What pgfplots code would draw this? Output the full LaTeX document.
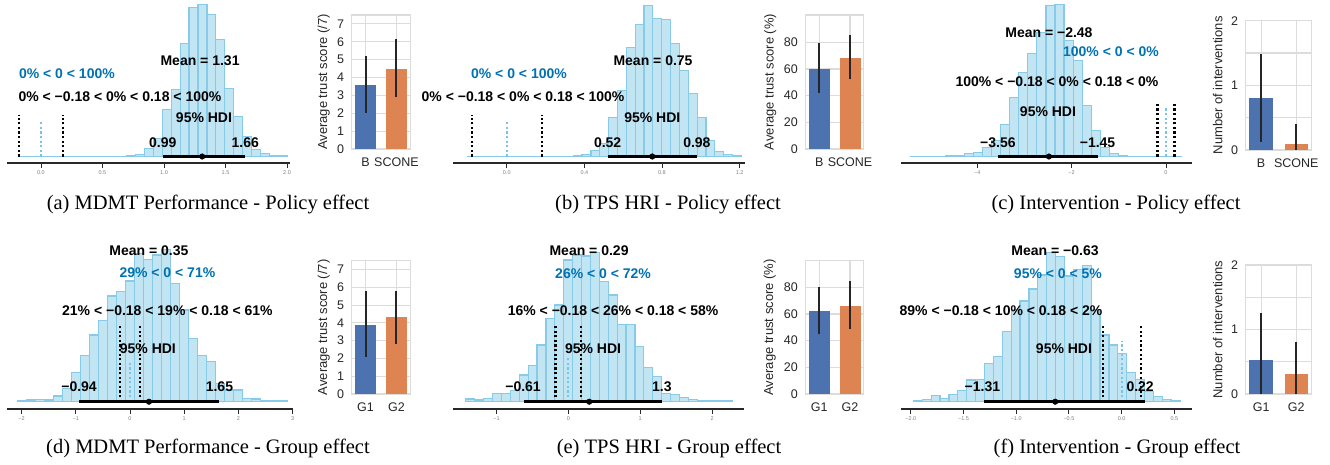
\documentclass[border=0pt]{standalone}
\usepackage{fontspec}
\setmainfont{Liberation Serif}
\newfontfamily\lsans{Liberation Sans}
\usepackage{pgfplots}
\pgfplotsset{compat=1.18}
\definecolor{histfill}{RGB}{194,229,244}
\definecolor{histline}{RGB}{135,203,232}
\definecolor{blueTxt}{RGB}{0,114,178}
\definecolor{zeroblue}{RGB}{120,195,230}
\definecolor{sbblue}{RGB}{76,114,176}
\definecolor{sborange}{RGB}{221,132,82}
\definecolor{gridgray}{RGB}{220,220,220}
\definecolor{labgray}{RGB}{38,38,38}
\definecolor{axdark}{RGB}{40,40,40}
\tikzset{ann/.style={font=\lsans\bfseries\fontsize{14}{16}\selectfont, inner sep=0pt, anchor=center},
  captxt/.style={font=\fontsize{20.5}{24}\selectfont, inner sep=0pt, anchor=center}}
\pgfplotsset{
  histax/.style={
    scale only axis, anchor=south west, clip=false,
    axis y line=none, axis x line*=bottom,
    axis line style={line width=1.3pt, draw=axdark},
    xtick align=outside, major tick length=4.5pt,
    tick style={line width=0.9pt, draw=axdark},
    xticklabel style={font=\lsans\fontsize{5.5}{6}\selectfont, text=gray},
    ytick=\empty,
  },
  hist/.style={ybar, bar shift=0pt, fill=histfill, draw=histline, line width=1.2pt},
  thr/.style={black, line width=2.2pt, dash pattern=on 2.2pt off 2.4pt},
  zer/.style={zeroblue, line width=2.2pt, dash pattern=on 2.2pt off 2.4pt},
  hdi/.style={black, line width=3.2pt},
  meandot/.style={only marks, mark=*, mark size=2.8pt, black},
  errb/.style={labgray, line width=2pt},
  barax/.style={
    scale only axis, anchor=south west, clip=false,
    ymin=0, xmin=-0.45, xmax=1.45,
    axis line style={gridgray, line width=1.1pt},
    grid=major, grid style={gridgray, line width=1.1pt},
    minor grid style={gridgray, line width=1.1pt},
    major tick length=0pt, minor tick length=0pt,
    xtick={0,1},
    tick label style={font=\lsans\fontsize{12.5}{14}\selectfont, text=labgray},
    yticklabel style={xshift=-4pt},
    xticklabel style={yshift=-5pt},
    every axis y label/.style={at={([xshift=#1]axis description cs:0,0.5)}, rotate=90, anchor=center, font=\lsans\fontsize{13}{15}\selectfont, text=labgray},
  },
}
\begin{document}
\begin{tikzpicture}
\path[use as bounding box] (0,0) rectangle (1330pt,-464pt);

% ---------- (a) histogram
\begin{axis}[histax, at={(7pt,-163pt)}, width=283pt, height=158.5pt,
  xmin=-0.276, xmax=2.024, ymin=-6.5, ymax=152,
  xtick={0,0.5,1,1.5,2}, xticklabels={0.0,0.5,1.0,1.5,2.0}]
\addplot[hist, bar width=0.07233] coordinates {
(-0.134,0) (-0.062,0) (0.011,0) (0.083,0) (0.156,0) (0.228,0) (0.300,0) (0.372,0)
(0.445,0.3) (0.517,0.3) (0.589,0.3) (0.662,0.3) (0.734,1) (0.806,1.7) (0.879,8.3)
(0.951,18) (1.023,46.7) (1.096,66.7) (1.168,113) (1.240,149) (1.313,151.7)
(1.385,141.7) (1.457,116.7) (1.530,68.3) (1.602,40) (1.674,20) (1.747,6.7)
(1.819,2.7) (1.891,1.3) (1.964,1)};
\addplot[thr] coordinates {(-0.18,0) (-0.18,41.5)};
\addplot[thr] coordinates {(0.18,0) (0.18,41.5)};
\addplot[zer] coordinates {(0,0) (0,36.5)};
\addplot[hdi] coordinates {(0.99,0) (1.66,0)};
\addplot[meandot] coordinates {(1.31,0)};
\node[ann] at (axis cs:1.293,96) {Mean = 1.31};
\node[ann, text=blueTxt] at (axis cs:0.211,83) {0\% < 0 < 100\%};
\node[ann] at (axis cs:0.642,60) {0\% < −0.18 < 0\% < 0.18 < 100\%};
\node[ann] at (axis cs:1.325,39) {95\% HDI};
\node[ann] at (axis cs:0.99,14) {0.99};
\node[ann] at (axis cs:1.66,14) {1.66};
\end{axis}

% ---------- (a) bars
\begin{axis}[barax=-28pt, at={(351.7pt,-149pt)}, width=58.6pt, height=134pt,
  ymax=7.5, ytick={0,1,2,3,4,5,6,7}, yticklabels={0,1,2,3,4,5,6,7},
  xticklabels={B,SCONE}, ylabel={Average trust score (/7)}]
\addplot[ybar, bar shift=0pt, bar width=21pt, fill=sbblue, draw=none] coordinates {(0,3.6)};
\addplot[ybar, bar shift=0pt, bar width=21pt, fill=sborange, draw=none] coordinates {(1,4.5)};
\addplot[errb] coordinates {(0,2.03) (0,5.2)};
\addplot[errb] coordinates {(1,2.9) (1,6.15)};
\end{axis}

% ---------- (b) histogram
\begin{axis}[histax, at={(453pt,-163pt)}, width=292pt, height=158.5pt,
  xmin=-0.277, xmax=1.228, ymin=-6.5, ymax=152,
  xtick={0,0.4,0.8,1.2}, xticklabels={0.0,0.4,0.8,1.2}]
\addplot[hist, bar width=0.04563] coordinates {
(-0.182,0) (-0.137,0) (-0.091,0) (-0.045,0) (0.000,0) (0.046,0) (0.092,0) (0.137,0)
(0.183,0) (0.229,0) (0.274,0.3) (0.320,0.3) (0.365,1) (0.411,2) (0.457,6) (0.502,12.7)
(0.548,39) (0.594,66) (0.639,109) (0.685,132) (0.730,151) (0.776,138) (0.822,137)
(0.867,113) (0.913,86) (0.959,63) (1.004,39) (1.050,16) (1.095,5.3) (1.141,2) (1.187,1)};
\addplot[thr] coordinates {(-0.18,0) (-0.18,41.5)};
\addplot[thr] coordinates {(0.18,0) (0.18,41.5)};
\addplot[zer] coordinates {(0,0) (0,36.5)};
\addplot[hdi] coordinates {(0.52,0) (0.98,0)};
\addplot[meandot] coordinates {(0.75,0)};
\node[ann] at (axis cs:0.754,95.5) {Mean = 0.75};
\node[ann, text=blueTxt] at (axis cs:0.063,82.5) {0\% < 0 < 100\%};
\node[ann] at (axis cs:0.084,59.5) {0\% < −0.18 < 0\% < 0.18 < 100\%};
\node[ann] at (axis cs:0.75,38.5) {95\% HDI};
\node[ann] at (axis cs:0.52,13.5) {0.52};
\node[ann] at (axis cs:0.98,13.5) {0.98};
\end{axis}

% ---------- (b) bars
\begin{axis}[barax=-35pt, at={(805.3pt,-149pt)}, width=58.6pt, height=134pt,
  ymax=100.5, ytick={0,20,40,60,80}, yticklabels={0,20,40,60,80},
  xticklabels={B,SCONE}, ylabel={Average trust score (\%)}]
\addplot[ybar, bar shift=0pt, bar width=21pt, fill=sbblue, draw=none] coordinates {(0,60)};
\addplot[ybar, bar shift=0pt, bar width=21pt, fill=sborange, draw=none] coordinates {(1,68.5)};
\addplot[errb] coordinates {(0,41.75) (0,79.25)};
\addplot[errb] coordinates {(1,52.25) (1,85.5)};
\end{axis}

% ---------- (c) histogram
\begin{axis}[histax, at={(900.7pt,-163pt)}, width=291pt, height=158.5pt,
  xmin=-5.62, xmax=0.545, ymin=-6.5, ymax=152,
  xtick={-4,-2,0}, xticklabels={−4,−2,0}]
\addplot[hist, bar width=0.1925] coordinates {
(-5.335,0) (-5.142,0) (-4.950,0) (-4.757,0.3) (-4.565,0.7) (-4.372,1) (-4.180,3.3)
(-3.987,4.3) (-3.795,9.3) (-3.602,16) (-3.410,32) (-3.217,59.3) (-3.025,84.3)
(-2.832,102.7) (-2.640,124.3) (-2.447,151) (-2.255,152) (-2.062,116) (-1.870,96)
(-1.677,51) (-1.485,26) (-1.292,9.3) (-1.100,2.7) (-0.907,0.7) (-0.715,0.3)
(-0.522,0) (-0.330,0) (-0.137,0) (0.055,0) (0.248,0)};
\addplot[thr] coordinates {(-0.18,0) (-0.18,54.5)};
\addplot[thr] coordinates {(0.18,0) (0.18,54.5)};
\addplot[zer] coordinates {(0,0) (0,49.5)};
\addplot[hdi] coordinates {(-3.56,0) (-1.45,0)};
\addplot[meandot] coordinates {(-2.48,0)};
\node[ann] at (axis cs:-2.48,123.5) {Mean = −2.48};
\node[ann, text=blueTxt] at (axis cs:-1.165,104.5) {100\% < 0 < 0\%};
\node[ann] at (axis cs:-2.31,74.5) {100\% < −0.18 < 0\% < 0.18 < 0\%};
\node[ann] at (axis cs:-2.5,44.5) {95\% HDI};
\node[ann] at (axis cs:-3.56,13.5) {−3.56};
\node[ann] at (axis cs:-1.45,13.5) {−1.45};
\end{axis}

% ---------- (c) bars
\begin{axis}[barax=-28pt, at={(1245.7pt,-150pt)}, width=66pt, height=129.3pt,
  xmin=-0.44, xmax=1.44,
  ymax=2, ytick={0,1,2}, yticklabels={0,1,2}, minor ytick={0.5,1.5}, grid=both,
  xticklabels={B,SCONE}, ylabel={Number of interventions}]
\addplot[ybar, bar shift=0pt, bar width=23.5pt, fill=sbblue, draw=none] coordinates {(0,0.80)};
\addplot[ybar, bar shift=0pt, bar width=23.5pt, fill=sborange, draw=none] coordinates {(1,0.093)};
\addplot[errb] coordinates {(0,0.13) (0,1.49)};
\addplot[errb] coordinates {(1,0) (1,0.40)};
\end{axis}

% ---------- (d) histogram
\begin{axis}[histax, at={(6.7pt,-409pt)}, width=285.9pt, height=159.3pt,
  xmin=-2.275, xmax=3.0, ymin=-7.3, ymax=152,
  xtick={-2,-1,0,1,2,3}, xticklabels={−2,−1,0,1,2,3}]
\addplot[hist, bar width=0.1663] coordinates {
(-1.999,1.3) (-1.832,1.7) (-1.666,2.3) (-1.500,1.7) (-1.333,5.7) (-1.167,13.3)
(-1.001,29.3) (-0.834,46) (-0.668,66.7) (-0.502,81) (-0.335,105.7) (-0.169,110)
(-0.003,120.7) (0.164,148.3) (0.330,142.3) (0.496,146.7) (0.663,152.3) (0.829,118.3)
(0.995,91.7) (1.162,63.3) (1.328,46) (1.494,40) (1.661,18.3) (1.827,11.7)
(1.993,11.7) (2.160,3.3) (2.326,2.7) (2.492,1) (2.659,1) (2.825,0.7)};
\addplot[thr] coordinates {(-0.18,0) (-0.18,75.7)};
\addplot[thr] coordinates {(0.18,0) (0.18,75.7)};
\addplot[zer] coordinates {(0,0) (0,38.4)};
\addplot[hdi] coordinates {(-0.94,0) (1.65,0)};
\addplot[meandot] coordinates {(0.35,0)};
\node[ann] at (axis cs:0.35,151) {Mean = 0.35};
\node[ann, text=blueTxt] at (axis cs:0.69,129) {29\% < 0 < 71\%};
\node[ann] at (axis cs:0.69,91) {21\% < −0.18 < 19\% < 0.18 < 61\%};
\node[ann] at (axis cs:0.33,53.4) {95\% HDI};
\node[ann] at (axis cs:-0.94,15) {−0.94};
\node[ann] at (axis cs:1.65,15) {1.65};
\end{axis}

% ---------- (d) bars
\begin{axis}[barax=-28pt, at={(351.7pt,-394pt)}, width=58.6pt, height=133.3pt,
  ymax=7.5, ytick={0,1,2,3,4,5,6,7}, yticklabels={0,1,2,3,4,5,6,7},
  xticklabels={G1,G2}, ylabel={Average trust score (/7)}]
\addplot[ybar, bar shift=0pt, bar width=21pt, fill=sbblue, draw=none] coordinates {(0,3.9)};
\addplot[ybar, bar shift=0pt, bar width=21pt, fill=sborange, draw=none] coordinates {(1,4.31)};
\addplot[errb] coordinates {(0,2.1) (0,5.78)};
\addplot[errb] coordinates {(1,2.82) (1,5.82)};
\end{axis}

% ---------- (e) histogram
\begin{axis}[histax, at={(453.3pt,-409pt)}, width=290.5pt, height=159.3pt,
  xmin=-1.6, xmax=2.44, ymin=-7.3, ymax=152,
  xtick={-1,0,1,2}, xticklabels={−1,0,1,2}]
\addplot[hist, bar width=0.1238] coordinates {
(-1.364,2.7) (-1.240,1.7) (-1.116,3.3) (-0.992,8.3) (-0.869,8.3) (-0.745,11)
(-0.621,26.7) (-0.497,36) (-0.373,56.7) (-0.250,83.3) (-0.126,96.7) (-0.002,141.7)
(0.122,146.7) (0.246,145.7) (0.369,149.3) (0.493,120) (0.617,106.7) (0.741,77.3)
(0.865,77.3) (0.988,55) (1.112,34) (1.236,25) (1.360,8.3) (1.484,7.3) (1.607,4)
(1.731,2.3) (1.855,0.7) (1.979,0.7) (2.103,0.7) (2.226,0.7)};
\addplot[thr] coordinates {(-0.18,0) (-0.18,75.7)};
\addplot[thr] coordinates {(0.18,0) (0.18,75.7)};
\addplot[zer] coordinates {(0,0) (0,43.4)};
\addplot[hdi] coordinates {(-0.61,0) (1.3,0)};
\addplot[meandot] coordinates {(0.29,0)};
\node[ann] at (axis cs:0.288,151) {Mean = 0.29};
\node[ann, text=blueTxt] at (axis cs:0.483,128.4) {26\% < 0 < 72\%};
\node[ann] at (axis cs:0.622,91) {16\% < −0.18 < 26\% < 0.18 < 58\%};
\node[ann] at (axis cs:0.344,53.4) {95\% HDI};
\node[ann] at (axis cs:-0.63,15) {−0.61};
\node[ann] at (axis cs:1.30,15) {1.3};
\end{axis}

% ---------- (e) bars
\begin{axis}[barax=-35.5pt, at={(805.3pt,-394pt)}, width=58.6pt, height=133.3pt,
  ymax=100, ytick={0,20,40,60,80}, yticklabels={0,20,40,60,80},
  xticklabels={G1,G2}, ylabel={Average trust score (\%)}]
\addplot[ybar, bar shift=0pt, bar width=21pt, fill=sbblue, draw=none] coordinates {(0,61.9)};
\addplot[ybar, bar shift=0pt, bar width=21pt, fill=sborange, draw=none] coordinates {(1,66.3)};
\addplot[errb] coordinates {(0,44.7) (0,80)};
\addplot[errb] coordinates {(1,48.9) (1,84.7)};
\end{axis}

% ---------- (f) histogram
\begin{axis}[histax, at={(900.7pt,-409pt)}, width=291pt, height=159.3pt,
  xmin=-2.095, xmax=0.664, ymin=-7.3, ymax=152,
  xtick={-2,-1.5,-1,-0.5,0,0.5}, xticklabels={−2.0,−1.5,−1.0,−0.5,0.0,0.5}]
\addplot[hist, bar width=0.08427] coordinates {
(-1.933,0.7) (-1.849,2.3) (-1.764,6) (-1.680,3.3) (-1.596,7.3) (-1.512,11)
(-1.427,21.7) (-1.343,22.3) (-1.259,38.3) (-1.175,45) (-1.090,70) (-1.006,92.3)
(-0.922,100.7) (-0.837,112.7) (-0.753,126.7) (-0.669,149) (-0.585,145) (-0.500,125.7)
(-0.416,132.3) (-0.332,136) (-0.248,92) (-0.163,66.7) (-0.079,56.7) (0.005,48.3)
(0.089,29) (0.174,22.3) (0.258,10) (0.342,5) (0.426,2.3) (0.511,0.7)};
\addplot[thr] coordinates {(-0.18,0) (-0.18,75.7)};
\addplot[thr] coordinates {(0.18,0) (0.18,75.7)};
\addplot[zer] coordinates {(0,0) (0,61)};
\addplot[hdi] coordinates {(-1.31,0) (0.22,0)};
\addplot[meandot] coordinates {(-0.63,0)};
\node[ann] at (axis cs:-0.632,151) {Mean = −0.63};
\node[ann, text=blueTxt] at (axis cs:-0.604,128.4) {95\% < 0 < 5\%};
\node[ann] at (axis cs:-1.144,91) {89\% < −0.18 < 10\% < 0.18 < 2\%};
\node[ann] at (axis cs:-0.547,53.4) {95\% HDI};
\node[ann] at (axis cs:-1.32,15) {−1.31};
\node[ann] at (axis cs:0.175,15) {0.22};
\end{axis}

% ---------- (f) bars
\begin{axis}[barax=-28pt, at={(1245.7pt,-394pt)}, width=66pt, height=129pt,
  xmin=-0.44, xmax=1.44,
  ymax=2, ytick={0,1,2}, yticklabels={0,1,2}, minor ytick={0.5,1.5}, grid=both,
  xticklabels={G1,G2}, ylabel={Number of interventions}]
\addplot[ybar, bar shift=0pt, bar width=23.5pt, fill=sbblue, draw=none] coordinates {(0,0.526)};
\addplot[ybar, bar shift=0pt, bar width=23.5pt, fill=sborange, draw=none] coordinates {(1,0.31)};
\addplot[errb] coordinates {(0,0) (0,1.25)};
\addplot[errb] coordinates {(1,0) (1,0.80)};
\end{axis}

% ---------- captions
\node[captxt] at (208pt,-204pt) {(a) MDMT Performance - Policy effect};
\node[captxt] at (668pt,-204pt) {(b) TPS HRI - Policy effect};
\node[captxt] at (1116pt,-204pt) {(c) Intervention - Policy effect};
\node[captxt] at (208pt,-448pt) {(d) MDMT Performance - Group effect};
\node[captxt] at (669pt,-448pt) {(e) TPS HRI - Group effect};
\node[captxt] at (1117pt,-448pt) {(f) Intervention - Group effect};
\end{tikzpicture}
\end{document}
